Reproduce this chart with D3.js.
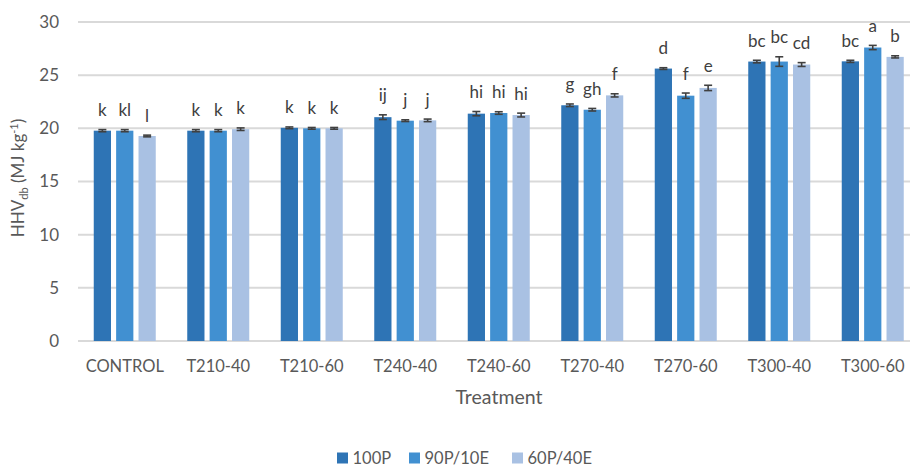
<!DOCTYPE html>
<html>
<head>
<style>
body { margin: 0; background: #fff; }
text { font-family: Lato, "Open Sans", sans-serif; fill: #595959; }
.grid line { stroke: #d9d9d9; stroke-width: 2; }
.lbl { fill: #404040; font-size: 17px; }
.err { stroke: #404040; stroke-width: 1.6; }
</style>
<script src="https://cdn.jsdelivr.net/npm/d3@7"></script>
</head>
<body>
<svg width="910" height="467"></svg>
<script>

var categories = ["CONTROL","T210-40","T210-60","T240-40","T240-60","T270-40","T270-60","T300-40","T300-60"];
var series = ["100P","90P/10E","60P/40E"];
var colors = ["#2e74b5","#4190d1","#a9c1e3"];
var yTicks = [0,5,10,15,20,25,30];

var hhv100 = [19.78,19.78,20.05,21.05,21.38,22.17,25.62,26.28,26.30];
var err100 = [0.10,0.10,0.08,0.22,0.20,0.12,0.08,0.12,0.10];
var hhv90  = [19.78,19.78,20.00,20.72,21.44,21.75,23.07,26.28,27.60];
var err90  = [0.10,0.10,0.08,0.08,0.12,0.12,0.25,0.45,0.20];
var hhv60  = [19.28,19.92,20.00,20.75,21.25,23.10,23.80,26.00,26.72];
var err60  = [0.08,0.12,0.08,0.12,0.18,0.15,0.25,0.18,0.10];
var let100 = ["k","k","k","ij","hi","g","d","bc","bc"];
var let90  = ["kl","k","k","j","hi","gh","f","bc","a"];
var let60  = ["l","k","k","j","hi","f","e","cd","b"];

var vals = [hhv100, hhv90, hhv60],
    errs = [err100, err90, err60],
    lets = [let100, let90, let60];

var svg = d3.select("svg");

var x = d3.scaleBand().domain(categories).range([78, 919.5]).paddingInner(0).paddingOuter(0);
var xs = d3.scaleBand().domain(series).range([-31, 31]).paddingInner(0.23).paddingOuter(0);
var y = d3.scaleLinear().domain([0, 30]).range([341, 22]);

// gridlines
svg.append("g").attr("class", "grid")
  .selectAll("line").data(yTicks).enter().append("line")
    .attr("x1", 78).attr("x2", 919.5)
    .attr("y1", function(d) { return y(d); })
    .attr("y2", function(d) { return y(d); });

// y axis labels
svg.append("g").selectAll("text").data(yTicks).enter().append("text")
  .attr("x", 59).attr("y", function(d) { return y(d); })
  .attr("dy", "0.35em").attr("text-anchor", "end")
  .style("font-size", "17px")
  .text(function(d) { return d; });

// category labels
svg.append("g").selectAll("text").data(categories).enter().append("text")
  .attr("x", function(d) { return x(d) + x.bandwidth() / 2; })
  .attr("y", 372).attr("text-anchor", "middle")
  .style("font-size", "16.5px")
  .text(function(d) { return d; });

// bars, error bars, letters
var rows = [];
series.forEach(function(s, si) {
  categories.forEach(function(c, ci) {
    rows.push({cat: c, ser: s, si: si, v: vals[si][ci], e: errs[si][ci], l: lets[si][ci]});
  });
});

function cx(d) { return x(d.cat) + x.bandwidth() / 2 + xs(d.ser); }

svg.append("g").selectAll("rect").data(rows).enter().append("rect")
  .attr("x", cx)
  .attr("y", function(d) { return y(d.v); })
  .attr("width", xs.bandwidth())
  .attr("height", function(d) { return y(0) - y(d.v); })
  .attr("fill", function(d) { return colors[d.si]; });

var eg = svg.append("g").attr("class", "err");
rows.forEach(function(d) {
  var m = cx(d) + xs.bandwidth() / 2;
  eg.append("line").attr("x1", m).attr("x2", m).attr("y1", y(d.v - d.e)).attr("y2", y(d.v + d.e));
  eg.append("line").attr("x1", m - 4).attr("x2", m + 4).attr("y1", y(d.v - d.e)).attr("y2", y(d.v - d.e));
  eg.append("line").attr("x1", m - 4).attr("x2", m + 4).attr("y1", y(d.v + d.e)).attr("y2", y(d.v + d.e));
});

svg.append("g").selectAll("text").data(rows).enter().append("text")
  .attr("class", "lbl")
  .attr("x", function(d) { return cx(d) + xs.bandwidth() / 2; })
  .attr("y", function(d) { return y(d.v + d.e) - 13.5; })
  .attr("text-anchor", "middle")
  .text(function(d) { return d.l; });

// axis titles
svg.append("text")
  .attr("x", 499).attr("y", 404).attr("text-anchor", "middle")
  .style("font-size", "19.5px")
  .text("Treatment");

var yt = svg.append("text")
  .attr("transform", "translate(24,178) rotate(-90)")
  .attr("text-anchor", "middle")
  .style("font-size", "17px");
yt.append("tspan").text("HHV");
yt.append("tspan").attr("dy", 4).style("font-size", "11px").text("db");
yt.append("tspan").attr("dy", -4).text(" (MJ kg");
yt.append("tspan").attr("dy", -6).style("font-size", "11px").text("-1");
yt.append("tspan").attr("dy", 6).text(")");

// legend
var legX = [337, 409, 512];
var lg = svg.append("g");
series.forEach(function(s, i) {
  lg.append("rect").attr("x", legX[i]).attr("y", 452.5).attr("width", 11).attr("height", 11).attr("fill", colors[i]);
  lg.append("text").attr("x", legX[i] + 15.5).attr("y", 464).style("font-size", "16.5px").text(s);
});

</script>
</body>
</html>
